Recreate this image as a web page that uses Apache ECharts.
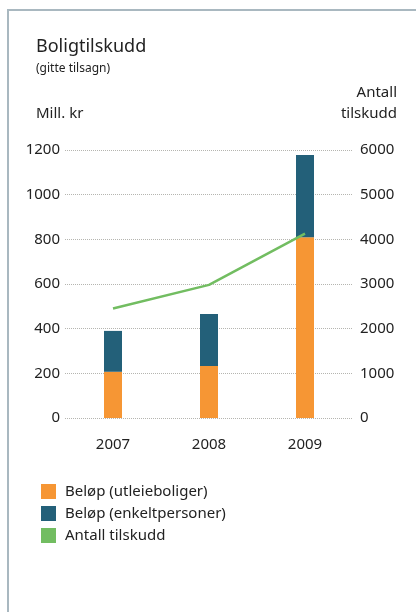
<!DOCTYPE html>
<html>
<head>
<meta charset="utf-8">
<script src="https://cdn.jsdelivr.net/npm/echarts@6/dist/echarts.min.js"></script>
<style>
  html, body { margin: 0; padding: 0; background: #fff; }
  #frame { position: absolute; left: 7px; top: 9px; width: 409px; height: 603px;
           border-left: 2px solid #a9b8c0; border-top: 2px solid #a9b8c0; box-sizing: border-box; }
  #chart { position: absolute; left: 0; top: 0; width: 416px; height: 612px; }
</style>
</head>
<body>
<div id="frame"></div>
<div id="chart"></div>
<script>
var years = ['2007', '2008', '2009'];
var utleie = [207, 233, 809];        // Mill. kr
var enkelt = [183, 233, 369];        // Mill. kr
var antall = [2450, 2980, 4130];     // antall tilskudd

var font = '"Noto Sans", sans-serif';
var txt = '#222';

var chart = echarts.init(document.getElementById('chart'), null, {renderer: 'canvas'});
chart.setOption({
	animation: false,
	textStyle: {fontFamily: font},
	graphic: [
		{type: 'text', x: 36, y: 38, style: {text: 'Boligtilskudd', font: '18px ' + font, fill: txt}},
		{type: 'text', x: 36, y: 63, style: {text: '(gitte tilsagn)', font: '12px ' + font, fill: txt}},
		{type: 'text', x: 36, y: 106, style: {text: 'Mill. kr', font: '15px ' + font, fill: txt}},
		{type: 'text', x: 397, y: 85, style: {text: 'Antall', font: '15px ' + font, fill: txt, align: 'right'}},
		{type: 'text', x: 397, y: 106, style: {text: 'tilskudd', font: '15px ' + font, fill: txt, align: 'right'}}
	],
	grid: {left: 65, right: 63, top: 150, bottom: 194},
	legend: {
		orient: 'vertical', left: 36, top: 479,
		itemWidth: 15, itemHeight: 15, itemGap: 7,
		icon: 'rect',
		textStyle: {fontSize: 15, color: txt, fontFamily: font, padding: [0, 0, 0, 4]},
		data: ['Beløp (utleieboliger)', 'Beløp (enkeltpersoner)', 'Antall tilskudd']
	},
	xAxis: {
		type: 'category', data: years,
		axisLine: {show: false}, axisTick: {show: false},
		axisLabel: {fontSize: 15, color: txt, margin: 19}
	},
	yAxis: [
		{
			type: 'value', min: 0, max: 1200, interval: 200,
			axisLine: {show: false}, axisTick: {show: false},
			axisLabel: {fontSize: 15, color: txt, margin: 5, formatter: function (v) { return String(v); }},
			splitLine: {lineStyle: {color: '#b5b5b0', type: 'dotted', width: 1}}
		},
		{
			type: 'value', min: 0, max: 6000, interval: 1000,
			axisLine: {show: false}, axisTick: {show: false},
			axisLabel: {fontSize: 15, color: txt, margin: 7, formatter: function (v) { return String(v); }},
			splitLine: {show: false}
		}
	],
	series: [
		{name: 'Beløp (utleieboliger)', type: 'bar', stack: 'b', barWidth: 18,
		 itemStyle: {color: '#f69634'}, data: utleie},
		{name: 'Beløp (enkeltpersoner)', type: 'bar', stack: 'b', barWidth: 18,
		 itemStyle: {color: '#236079'}, data: enkelt},
		{name: 'Antall tilskudd', type: 'line', yAxisIndex: 1, symbol: 'none',
		 lineStyle: {color: '#72bd61', width: 2.5}, itemStyle: {color: '#72bd61'}, data: antall}
	]
});
</script>
</body>
</html>
